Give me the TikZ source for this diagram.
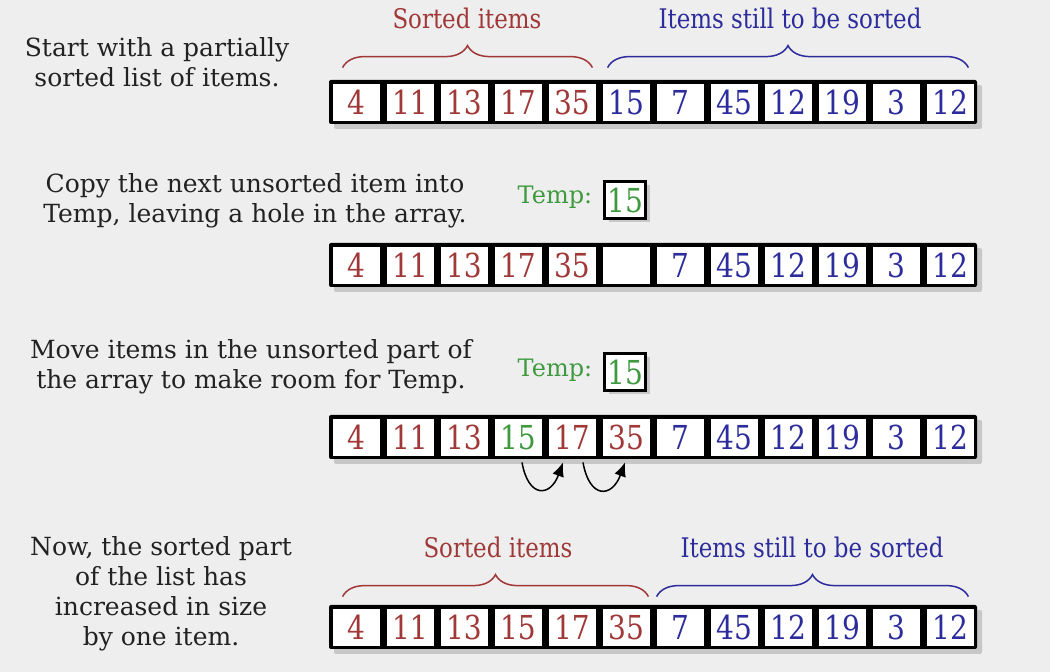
\documentclass[tikz,border=0pt]{standalone}
\usepackage{fontspec}
\setmainfont{DejaVu Serif}
\newfontfamily\narrowserif[FakeStretch=0.85]{DejaVu Serif}
\usetikzlibrary{arrows.meta,calc,decorations.pathreplacing,shadows}
\definecolor{srt}{HTML}{A03838}
\definecolor{uns}{HTML}{2C2C9C}
\definecolor{tmp}{HTML}{3F9A3F}
\definecolor{paper}{HTML}{EEEEEE}
\definecolor{ink}{HTML}{222222}

\begin{document}
\begin{tikzpicture}[
  x=0.5pt, y=0.5pt,
  note/.style={align=center, text=ink, font=\fontsize{12.5}{15}\selectfont},
  rowframe/.style={fill=black, rounded corners=1pt, minimum width=324pt, minimum height=22pt, inner sep=0pt, drop shadow={shadow xshift=2.5pt, shadow yshift=-2.5pt, opacity=0.35}},
  cell/.style={fill=white, draw=black, line width=0.4pt, minimum width=24pt, minimum height=19pt, inner sep=0pt, font=\narrowserif\fontsize{16.5}{16.5}\selectfont},
  tempbox/.style={fill=white, draw=black, line width=1.5pt, minimum width=20.5pt, minimum height=18.5pt, inner sep=0pt, text=tmp, font=\narrowserif\fontsize{16.5}{16.5}\selectfont, drop shadow={shadow xshift=2pt, shadow yshift=-2pt, opacity=0.35}},
  templabel/.style={text=tmp, font=\fontsize{12}{12}\selectfont},
  bracelabel/.style={font=\narrowserif\fontsize{13.5}{13.5}\selectfont},
  groupbrace/.style={decorate, decoration={brace, amplitude=11pt}, line width=0.75pt},
  movearrow/.style={-{Latex[length=7pt,width=6pt]}, line width=0.75pt, looseness=2.3}
]
  \fill[paper] (0,0) rectangle (1050,-672);

  % step 1: partially sorted list
  \node[note] (step1) at (157,-62) {Start with a partially\\sorted list of items.};
  \node[rowframe] (row1) at (653,-102) {};
  \foreach \v/\c [count=\i] in {4/srt,11/srt,13/srt,17/srt,35/srt,15/uns,7/uns,45/uns,12/uns,19/uns,3/uns,12/uns}
    \node[cell, text=\c] (r1c\i) at ({356+54*(\i-1)},-102) {\v};
  \draw[groupbrace, srt] ($(r1c1.north west)+(11,15)$) -- ($(r1c5.north east)+(-4,15)$);
  \draw[groupbrace, uns] ($(r1c6.north west)+(6,15)$) -- ($(r1c12.north east)+(-6,15)$);
  \node[bracelabel, text=srt] (sorted1) at (467,-18) {Sorted items};
  \node[bracelabel, text=uns] (unsorted1) at (790,-18) {Items still to be sorted};

  % step 2: copy into Temp
  \node[note] (step2) at (255,-201) {Copy the next unsorted item into\\Temp, leaving a hole in the array.};
  \node[templabel] (templ2) at (555,-197) {Temp:};
  \node[tempbox] (temp2) at (625,-200) {15};
  \node[rowframe] (row2) at (653,-265) {};
  \foreach \v/\c [count=\i] in {4/srt,11/srt,13/srt,17/srt,35/srt,{}/uns,7/uns,45/uns,12/uns,19/uns,3/uns,12/uns}
    \node[cell, text=\c] (r2c\i) at ({356+54*(\i-1)},-265) {\v};

  % step 3: shift sorted items
  \node[note] (step3) at (251,-367) {Move items in the unsorted part of\\the array to make room for Temp.};
  \node[templabel] (templ3) at (555,-370) {Temp:};
  \node[tempbox] (temp3) at (625,-372) {15};
  \node[rowframe] (row3) at (653,-437) {};
  \foreach \v/\c [count=\i] in {4/srt,11/srt,13/srt,15/tmp,17/srt,35/srt,7/uns,45/uns,12/uns,19/uns,3/uns,12/uns}
    \node[cell, text=\c] (r3c\i) at ({356+54*(\i-1)},-437) {\v};
  \draw[movearrow] ($(r3c4.south)+(4,-6)$) to[out=-80,in=-110] ($(r3c5.south)+(-9,-6)$);
  \draw[movearrow] ($(r3c5.south)+(11,-6)$) to[out=-80,in=-110] ($(r3c6.south)+(-1,-6)$);

  % step 4: sorted part grown by one
  \node[note] (step4) at (161,-594) {Now, the sorted part\\of the list has\\increased in size\\by one item.};
  \node[rowframe] (row4) at (653,-627) {};
  \foreach \v/\c [count=\i] in {4/srt,11/srt,13/srt,15/srt,17/srt,35/srt,7/uns,45/uns,12/uns,19/uns,3/uns,12/uns}
    \node[cell, text=\c] (r4c\i) at ({356+54*(\i-1)},-627) {\v};
  \draw[groupbrace, srt] ($(r4c1.north west)+(11,11)$) -- ($(r4c6.north east)+(-2,11)$);
  \draw[groupbrace, uns] ($(r4c7.north west)+(1,11)$) -- ($(r4c12.north east)+(-6,11)$);
  \node[bracelabel, text=srt] (sorted4) at (498,-547) {Sorted items};
  \node[bracelabel, text=uns] (unsorted4) at (812,-547) {Items still to be sorted};
\end{tikzpicture}
\end{document}
